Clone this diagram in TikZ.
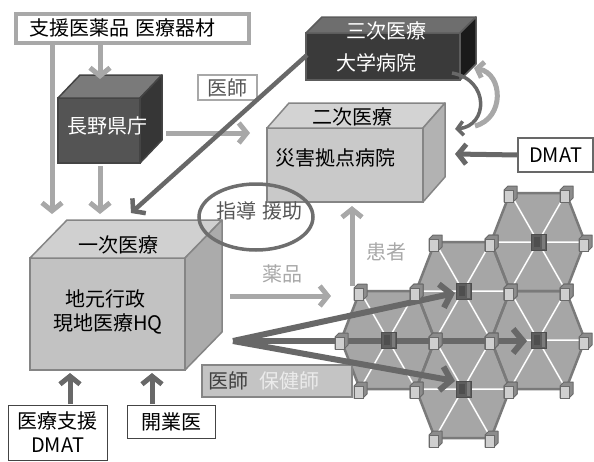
\documentclass[tikz,border=0pt]{standalone}
\usepackage{fontspec}
\setmainfont{Noto Sans CJK JP}
\usetikzlibrary{arrows.meta,shapes.geometric}
\definecolor{lightg}{HTML}{A8A8A8}
\definecolor{darkg}{HTML}{686868}
\definecolor{hexfill}{HTML}{A6A6A6}
\definecolor{hexedge}{HTML}{7A7A7A}
\definecolor{mkface}{HTML}{CFCFCF}
\definecolor{mkside}{HTML}{8C8C8C}
\definecolor{mkedge}{HTML}{6A6A6A}
\definecolor{cmfill}{HTML}{5E5E5E}
\definecolor{cmedge}{HTML}{4E4E4E}
\definecolor{cmlight}{HTML}{7C7C7C}
\definecolor{pfront}{HTML}{C2C2C2}
\definecolor{ptop}{HTML}{D0D0D0}
\definecolor{pside}{HTML}{ABABAB}
\definecolor{pedge}{HTML}{858585}
\definecolor{sfront}{HTML}{C9C9C9}
\definecolor{stop}{HTML}{D3D3D3}
\definecolor{sside}{HTML}{B2B2B2}
\definecolor{kfront}{HTML}{545454}
\definecolor{ktop}{HTML}{7A7A7A}
\definecolor{kside}{HTML}{363636}
\definecolor{kedge}{HTML}{444444}
\definecolor{tfront}{HTML}{3A3A3A}
\definecolor{ttop}{HTML}{6E6E6E}
\definecolor{tside}{HTML}{1A1A1A}
\definecolor{tedge}{HTML}{5C5C5C}
\definecolor{ellg}{HTML}{6E6E6E}
\definecolor{txtg}{HTML}{555555}
\definecolor{hokenbg}{HTML}{C4C4C4}
\tikzset{
  txt/.style={inner sep=0pt},
  cubefront/.style={draw, line width=1.5pt, outer sep=0pt, inner sep=0pt, anchor=north west},
  cubeface/.style={line width=1.5pt, line join=round},
  lgarrow/.style={draw=lightg, line width=5pt, -{Straight Barb[length=8pt,width=20pt]}},
  dgarrow/.style={draw=darkg, line width=5pt, -{Straight Barb[length=8pt,width=20pt]}},
  fanarrow/.style={draw=darkg, line width=6pt, -{Straight Barb[length=10pt,width=24pt]}},
  labelbox/.style={draw, fill=white, inner sep=0pt, outer sep=0pt},
  vmark/.pic={
    \filldraw[fill=mkside, draw=mkedge, line width=1pt, line join=round] (-6,-3) -- (-2,-7) -- (7,-7) -- (7,5) -- (3,9) -- (-6,9) -- cycle;
    \filldraw[fill=mkface, draw=mkedge, line width=1pt] (-6,-3) rectangle (3,9);
  },
  cmark/.pic={
    \filldraw[fill=cmfill, draw=cmedge, line width=1pt] (-7,-8) rectangle (8,8);
    \fill[cmlight] (4,-7) rectangle (7,7);
    \fill[cmedge] (-4,-5) rectangle (2,5);
  },
}
\begin{document}
\begin{tikzpicture}[x=1pt,y=-1pt, font=\fontsize{20}{24}\selectfont]
\useasboundingbox (0,0) rectangle (594,461);

% ---------- hexagon map ----------
\foreach \cx/\cy in {538/242,463/291,388/340,538/340,463/389}{
  \fill[hexfill] ({\cx-47},\cy) -- ({\cx-28},{\cy-49}) -- ({\cx+28},{\cy-49}) -- ({\cx+47},\cy) -- ({\cx+28},{\cy+49}) -- ({\cx-28},{\cy+49}) -- cycle;
}
\foreach \cx/\cy in {538/242,463/291,388/340,538/340,463/389}{
  \draw[white, line width=1.5pt] ({\cx-47},\cy) -- ({\cx+47},\cy) ({\cx-28},{\cy-49}) -- ({\cx+28},{\cy+49}) ({\cx+28},{\cy-49}) -- ({\cx-28},{\cy+49});
}
\foreach \cx/\cy in {538/242,463/291,388/340,538/340,463/389}{
  \draw[hexedge, line width=2.5pt, line join=round] ({\cx-47},\cy) -- ({\cx-28},{\cy-49}) -- ({\cx+28},{\cy-49}) -- ({\cx+47},\cy) -- ({\cx+28},{\cy+49}) -- ({\cx-28},{\cy+49}) -- cycle;
}

% ---------- cubes ----------
% 長野県庁
\node[cubefront, draw=kedge, fill=kfront, minimum width=82pt, minimum height=65pt] (ken) at (58,98) {};
\filldraw[cubeface, draw=kedge, fill=ktop] (ken.north west) -- ++(22,-23) -- ++(82,0) -- (ken.north east) -- cycle;
\filldraw[cubeface, draw=kedge, fill=kside] (ken.north east) -- ++(22,-23) -- ++(0,65) -- (ken.south east) -- cycle;
\node[txt, text=white] (kent) at (107,126) {長野県庁};

% 三次医療
\node[cubefront, draw=tedge, fill=tfront, minimum width=154pt, minimum height=47pt] (tert) at (306,33) {};
\filldraw[cubeface, draw=tedge, fill=ttop] (tert.north west) -- ++(16,-16) -- ++(154,0) -- (tert.north east) -- cycle;
\filldraw[cubeface, draw=tedge, fill=tside] (tert.north east) -- ++(16,-16) -- ++(0,47) -- (tert.south east) -- cycle;
\node[txt, text=white] (tertt1) at (386,31) {三次医療};
\node[txt, text=white] (tertt2) at (376,63) {大学病院};

% 二次医療
\node[cubefront, draw=pedge, fill=sfront, minimum width=156pt, minimum height=74pt] (sec) at (267,128) {};
\filldraw[cubeface, draw=pedge, fill=stop] (sec.north west) -- ++(22,-25) -- ++(156,0) -- (sec.north east) -- cycle;
\filldraw[cubeface, draw=pedge, fill=sside] (sec.north east) -- ++(22,-25) -- ++(0,74) -- (sec.south east) -- cycle;
\node[txt] (sect1) at (352,117) {二次医療};
\node[txt] (sect2) at (335,158) {災害拠点病院};

% 一次医療
\node[cubefront, draw=pedge, fill=pfront, minimum width=155pt, minimum height=112pt] (prim) at (30,258) {};
\filldraw[cubeface, draw=pedge, fill=ptop] (prim.north west) -- ++(37,-38) -- ++(155,0) -- (prim.north east) -- cycle;
\filldraw[cubeface, draw=pedge, fill=pside] (prim.north east) -- ++(37,-38) -- ++(0,112) -- (prim.south east) -- cycle;
\node[txt] (primt1) at (118,245) {一次医療};
\node[txt] (primt2) at (105,299) {地元行政};
\node[txt] (primt3) at (108,324) {現地医療HQ};

% ---------- label boxes ----------
\node[labelbox, draw=lightg, line width=3.5pt, minimum width=233pt, minimum height=29pt] (supply) at (132.5,28.5) {};
\node[txt] (supplyt) at (122,28) {支援医薬品\hspace{6pt}医療器材};

\node[labelbox, draw=lightg, line width=1.5pt, minimum width=59pt, minimum height=25pt, text=txtg] (ishi) at (227.5,87.5) {医師};

\node[labelbox, draw=darkg, line width=1.5pt, minimum width=75pt, minimum height=34pt] (dmat) at (555.5,155) {DMAT};

\node[labelbox, draw=kedge, line width=1pt, minimum width=99pt, minimum height=55pt, align=center, font=\fontsize{20}{24}\selectfont] (med) at (57.5,432.5) {医療支援\\DMAT};

\node[labelbox, draw=kedge, line width=1pt, minimum width=88pt, minimum height=33pt] (kai) at (171,421.5) {開業医};

\node[labelbox, draw=lightg!80!black, fill=hokenbg, line width=1.5pt, minimum width=150pt, minimum height=32pt] (hoken) at (277,381) {};
\node[txt, text=black!75] (hokent1) at (228,381) {医師};
\node[txt, text=white!92!black] (hokent2) at (289,381) {保健師};

\node[txt, text=lightg] (yaku) at (282,274) {薬品};
\node[txt, text=lightg] (kanja) at (386,252) {患者};

% ---------- connectors ----------
\coordinate (sA) at (52,45);   \coordinate (sAe) at (52,214);
\coordinate (sB) at (100,45);  \coordinate (sBe) at (100,79);
\coordinate (kB) at (100,166); \coordinate (kBe) at (100,214);
\coordinate (kR) at (166,133); \coordinate (kRe) at (250,133);
\coordinate (yS) at (230,296); \coordinate (yE) at (331,296);
\coordinate (pS) at (352,286); \coordinate (pE) at (352,206);
\draw[lgarrow] (sA) -- (sAe);
\draw[lgarrow] (sB) -- (sBe);
\draw[lgarrow] (kB) -- (kBe);
\draw[lgarrow] (kR) -- (kRe);
\draw[lgarrow] (yS) -- (yE);
\draw[lgarrow] (pS) -- (pE);

\coordinate (tL) at (307,55); \coordinate (pT) at (131,213);
\draw[dgarrow, line width=4.5pt] (tL) -- (pT);

\coordinate (dE) at (455,154);
\draw[dgarrow] (dmat.west) -- (dE);

\coordinate (mA) at (70,404);  \coordinate (mAe) at (70,373);
\coordinate (kA) at (152,404); \coordinate (kAe) at (152,373);
\draw[dgarrow] (mA) -- (mAe);
\draw[dgarrow] (kA) -- (kAe);

% curved arrows between 三次 and 二次
\coordinate (c1s) at (452,73); \coordinate (c1e) at (455,129);
\draw[darkg, line width=3.5pt, -{Straight Barb[length=6pt,width=14pt]}] (c1s) .. controls (490,80) and (488,126) .. (c1e);
\coordinate (c2s) at (475,126); \coordinate (c2e) at (474,68);
\draw[lightg, line width=5pt, -{Straight Barb[length=6pt,width=16pt]}] (c2s) .. controls (505,118) and (503,74) .. (c2e);

% fan arrows to the districts
\coordinate (fan) at (233,341);
\coordinate (h2) at (455,293);
\coordinate (h4) at (527,341);
\coordinate (h5) at (455,381);
\draw[fanarrow] (fan) -- (h2);
\draw[fanarrow] (fan) -- (h4);
\draw[fanarrow] (fan) -- (h5);

% ---------- markers ----------
\foreach \cx/\cy in {538/242,463/291,388/340,538/340,463/389}{
  \foreach \vx/\vy in {-47/0,-28/-49,28/-49,47/0,28/49,-28/49}{
    \pic at ({\cx+\vx},{\cy+\vy}) {vmark};
  }
  \pic at (\cx,\cy) {cmark};
}

% ---------- ellipse ----------
\node[draw=ellg, line width=3.5pt, ellipse, minimum width=114pt, minimum height=66pt, inner sep=0pt] (circ) at (256,217) {};
\node[txt, text=txtg] (circt) at (259,211) {指導\hspace{6pt}援助};
\end{tikzpicture}
\end{document}
